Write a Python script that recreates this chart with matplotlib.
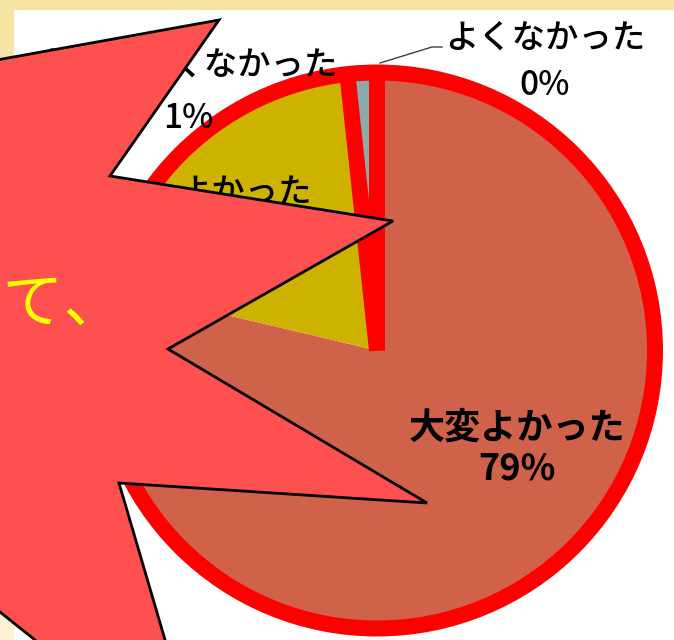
import numpy as np
import matplotlib.pyplot as plt
from matplotlib.patches import Polygon, Circle, Rectangle
from matplotlib.colors import LinearSegmentedColormap

plt.rcParams['font.family'] = ['Noto Sans CJK JP', 'DejaVu Sans']

W, H = 674, 640

# 円グラフのデータ
labels = ['大変よかった', 'よかった', 'あまりよくなかった', 'よくなかった']
values = [78.7, 19.6, 1.4, 0.3]
colors = ['#D0624A', '#CDB300', '#8DAAAB', '#8DAAAB']
pct = [f'{round(v)}%' for v in values]

# 吹き出し(爆発形)の頂点, 画像座標
star_x = [-120, 219, 110, 393, 168, 427, 119, 205, 35, 0, -100, -200]
star_y = [81, 20, 176, 221, 349, 503, 483, 776, 640, 612, 532, 300]
star_text = 'について、'


def Y(y):
    return H - y


fig = plt.figure(figsize=(W / 100, H / 100), dpi=100)
ax = fig.add_axes([0, 0, 1, 1])

# 背景
grad = np.linspace(0, 1, 64).reshape(-1, 1)
cm = LinearSegmentedColormap.from_list('bg', ['#F7E3A2', '#FBF2CF'])
ax.imshow(grad, cmap=cm, extent=[0, W, 0, H], aspect='auto', zorder=0)
ax.add_patch(Rectangle((14, 0), W - 14, H - 10, facecolor='white', edgecolor='none', zorder=1))

cx, cy, r = 377, Y(350.5), 278
wedges, _ = ax.pie(values, colors=colors, startangle=90, counterclock=False,
                   center=(cx, cy), radius=r,
                   wedgeprops=dict(linewidth=0, zorder=2))

# 赤い枠
lw = 11.5
ax.add_patch(Circle((cx, cy), r, fill=False, edgecolor='red', lw=lw, zorder=3))
a2 = np.deg2rad(90 + 360 * (values[2] + values[3]) / sum(values))
ax.plot([cx + r * np.cos(a2), cx, cx], [cy + r * np.sin(a2), cy, cy + r],
        color='red', lw=lw, solid_joinstyle='bevel', solid_capstyle='butt', zorder=3)

# ラベル
fs = 24
def lab(x, y1, y2, name, p, size=fs, weight='medium'):
    ax.text(x, Y(y1) - 0.37 * size * 100 / 72, name, ha='center', va='baseline',
            fontsize=size, fontweight=weight, color='black', zorder=5)
    ax.text(x, Y(y2) - 0.37 * size * 100 / 72, p, ha='center', va='baseline',
            fontsize=size, fontweight=weight, color='black', zorder=5)

lab(517, 425, 466, labels[0], pct[0], size=26, weight='bold')
lab(245, 190, 240, labels[1], pct[1])
lab(188, 62, 116, labels[2], pct[2])
lab(545, 35, 83, labels[3], pct[3])
ax.plot([442, 432, 380], [Y(47), Y(47), Y(63)], color='#404040', lw=1, zorder=5)

# 爆発形
ax.add_patch(Polygon(list(zip(star_x, [Y(v) for v in star_y])), closed=True,
                     facecolor='#FF5050', edgecolor='black', lw=2, zorder=10))
ax.text(125, Y(322), star_text, ha='right', va='baseline', fontsize=44,
        color='#FFFF00', zorder=11)

ax.set_xlim(0, W)
ax.set_ylim(0, H)
ax.set_aspect('auto')
ax.axis('off')

fig.savefig('out.png', dpi=100)
